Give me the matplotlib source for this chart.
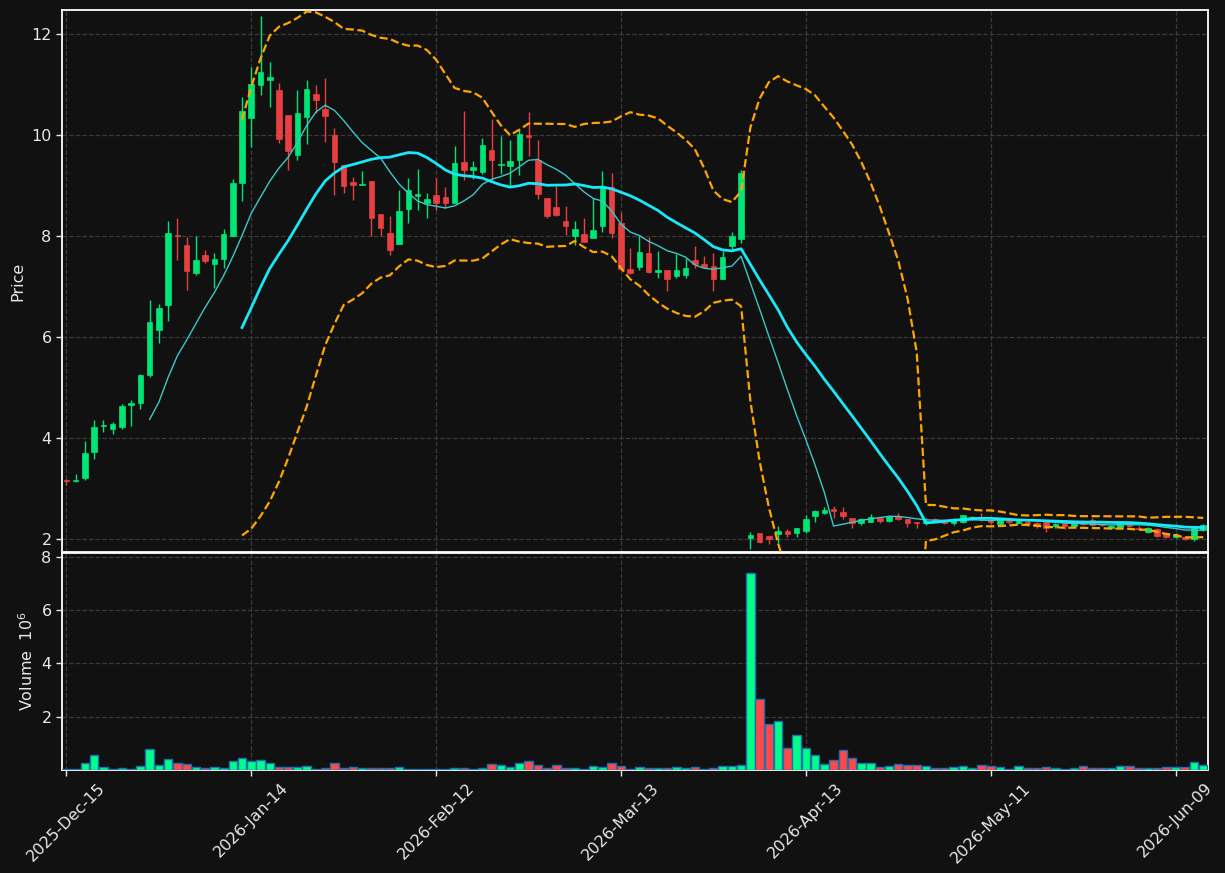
import numpy as np
import pandas as pd
import matplotlib
matplotlib.use("Agg")
import matplotlib.pyplot as plt

# ---------------- data ----------------
opens = [3.17, 3.15, 3.20, 3.72, 4.23, 4.18, 4.22, 4.64, 4.68, 5.25,
         6.13, 6.64, 8.02, 7.81, 7.27, 7.63, 7.45, 7.55, 8.00, 9.04,
         10.33, 10.98, 11.08, 10.90, 10.40, 9.60, 10.35, 10.82, 10.52, 9.99,
         9.40, 9.06, 9.00, 9.08, 8.44, 8.05, 7.83, 8.54, 8.79, 8.66,
         8.81, 8.77, 8.66, 9.47, 9.30, 9.26, 9.71, 9.41, 9.39, 9.51,
         9.99, 9.51, 8.75, 8.58, 8.30, 7.99, 8.04, 7.95, 8.19, 8.97,
         8.25, 7.35, 7.39, 7.66, 7.29, 7.33, 7.21, 7.23, 7.53, 7.45,
         7.41, 7.15, 7.79, 7.93, 2.02, 2.11, 2.05, 2.10, 2.15, 2.11,
         2.16, 2.44, 2.51, 2.59, 2.53, 2.40, 2.31, 2.34, 2.41, 2.36,
         2.44, 2.38, 2.34, 2.31, 2.38, 2.33, 2.31, 2.34, 2.40, 2.41,
         2.37, 2.30, 2.36, 2.31, 2.33, 2.31, 2.33, 2.25, 2.31, 2.26,
         2.32, 2.37, 2.30, 2.21, 2.24, 2.28, 2.22, 2.13, 2.20, 2.12,
         2.04, 2.04, 1.99, 2.17]
highs = [3.18, 3.29, 3.93, 4.36, 4.36, 4.32, 4.67, 4.74, 5.26, 6.73,
         6.65, 8.30, 8.36, 7.98, 8.00, 7.73, 7.66, 8.14, 9.13, 10.75,
         11.34, 12.36, 11.45, 11.03, 10.40, 10.90, 11.09, 10.99, 11.12, 10.14,
         9.40, 9.16, 9.29, 9.08, 8.44, 8.39, 8.90, 9.15, 9.33, 8.85,
         9.14, 8.97, 9.78, 10.48, 9.49, 9.94, 10.32, 9.97, 9.89, 10.11,
         10.46, 9.90, 8.75, 8.99, 8.59, 8.30, 8.35, 8.75, 9.29, 9.24,
         8.48, 7.76, 8.00, 7.97, 7.70, 7.33, 7.64, 7.56, 7.80, 7.60,
         7.66, 7.70, 8.07, 9.31, 2.13, 2.11, 2.05, 2.26, 2.19, 2.22,
         2.46, 2.56, 2.63, 2.65, 2.63, 2.40, 2.41, 2.48, 2.41, 2.46,
         2.50, 2.38, 2.34, 2.41, 2.41, 2.36, 2.40, 2.46, 2.44, 2.51,
         2.39, 2.41, 2.38, 2.38, 2.36, 2.33, 2.35, 2.31, 2.33, 2.33,
         2.37, 2.40, 2.32, 2.28, 2.36, 2.31, 2.25, 2.24, 2.22, 2.14,
         2.11, 2.06, 2.26, 2.30]
lows = [3.07, 3.12, 3.17, 3.58, 4.11, 4.08, 4.18, 4.23, 4.57, 5.21,
        5.88, 6.31, 7.53, 6.92, 7.22, 7.47, 6.97, 7.37, 7.98, 8.69,
        9.76, 10.79, 10.55, 9.84, 9.30, 9.50, 9.82, 10.44, 9.86, 8.81,
        8.84, 8.71, 9.00, 7.99, 7.99, 7.63, 7.83, 8.26, 8.51, 8.36,
        8.52, 8.56, 8.66, 9.11, 9.13, 9.23, 9.08, 9.23, 8.99, 9.20,
        9.59, 8.73, 8.35, 8.40, 8.02, 7.81, 7.87, 7.95, 8.07, 7.95,
        7.34, 7.25, 7.33, 7.27, 7.17, 6.90, 7.16, 7.16, 7.36, 7.39,
        6.90, 7.15, 7.70, 7.85, 1.80, 1.91, 1.89, 1.91, 2.03, 2.03,
        2.11, 2.34, 2.48, 2.40, 2.38, 2.21, 2.27, 2.33, 2.32, 2.34,
        2.37, 2.24, 2.21, 2.28, 2.33, 2.29, 2.28, 2.32, 2.37, 2.36,
        2.30, 2.27, 2.30, 2.29, 2.26, 2.21, 2.13, 2.22, 2.20, 2.24,
        2.27, 2.26, 2.25, 2.19, 2.22, 2.24, 2.17, 2.11, 2.04, 2.02,
        2.01, 1.97, 1.95, 2.15]
closes = [3.15, 3.17, 3.69, 4.22, 4.26, 4.28, 4.62, 4.68, 5.25, 6.30,
          6.58, 8.05, 7.99, 7.30, 7.53, 7.51, 7.55, 8.03, 9.04, 10.48,
          11.00, 11.25, 11.14, 9.91, 9.68, 10.44, 10.92, 10.70, 10.37, 9.46,
          8.98, 9.00, 9.02, 8.35, 8.16, 7.72, 8.50, 8.90, 8.82, 8.74,
          8.66, 8.66, 9.45, 9.31, 9.37, 9.81, 9.50, 9.43, 9.49, 10.01,
          9.95, 8.83, 8.40, 8.42, 8.19, 8.13, 7.87, 8.12, 8.98, 8.05,
          7.34, 7.27, 7.68, 7.29, 7.33, 7.14, 7.33, 7.37, 7.44, 7.39,
          7.14, 7.58, 8.00, 9.24, 2.07, 1.93, 1.99, 2.15, 2.10, 2.21,
          2.38, 2.55, 2.57, 2.55, 2.44, 2.31, 2.38, 2.43, 2.36, 2.45,
          2.38, 2.32, 2.31, 2.36, 2.35, 2.31, 2.38, 2.46, 2.42, 2.38,
          2.33, 2.39, 2.33, 2.36, 2.29, 2.25, 2.22, 2.29, 2.25, 2.31,
          2.29, 2.28, 2.28, 2.26, 2.34, 2.26, 2.19, 2.22, 2.06, 2.04,
          2.09, 1.99, 2.22, 2.28]
volumes_m = [0.02, 0.02, 0.26, 0.56, 0.11, 0.02, 0.07, 0.02, 0.14, 0.79,
             0.18, 0.41, 0.26, 0.23, 0.11, 0.07, 0.11, 0.06, 0.34, 0.45,
             0.34, 0.38, 0.26, 0.11, 0.10, 0.10, 0.15, 0.02, 0.07, 0.26,
             0.06, 0.11, 0.06, 0.06, 0.06, 0.06, 0.11, 0.02, 0.02, 0.02,
             0.02, 0.02, 0.06, 0.06, 0.02, 0.06, 0.23, 0.19, 0.10, 0.26,
             0.34, 0.19, 0.06, 0.19, 0.06, 0.06, 0.02, 0.15, 0.10, 0.26,
             0.15, 0.02, 0.11, 0.06, 0.06, 0.06, 0.11, 0.06, 0.11, 0.02,
             0.06, 0.15, 0.15, 0.19, 7.39, 2.66, 1.73, 1.84, 0.83, 1.31,
             0.83, 0.56, 0.23, 0.38, 0.75, 0.45, 0.26, 0.26, 0.11, 0.15,
             0.23, 0.19, 0.19, 0.15, 0.06, 0.06, 0.11, 0.15, 0.06, 0.19,
             0.15, 0.11, 0.02, 0.15, 0.06, 0.06, 0.11, 0.06, 0.02, 0.06,
             0.15, 0.06, 0.06, 0.06, 0.15, 0.15, 0.06, 0.06, 0.06, 0.11,
             0.11, 0.11, 0.30, 0.19]
start_date = "2025-12-15"
holidays = ["2025-12-25", "2026-01-01", "2026-01-19", "2026-02-16",
            "2026-04-03", "2026-05-25"]

# ---------------- derived ----------------
n = len(closes)
cbd = pd.offsets.CustomBusinessDay(holidays=holidays)
dates = pd.date_range(start=start_date, periods=n, freq=cbd)
o = np.array(opens); h = np.array(highs); l = np.array(lows); c = np.array(closes)
v = np.array(volumes_m)
x = np.arange(n)
cs = pd.Series(c)
ma10 = cs.rolling(10).mean()
ma20 = cs.rolling(20).mean()
sd20 = cs.rolling(20).std(ddof=0)
bb_up = ma20 + 2 * sd20
bb_lo = ma20 - 2 * sd20

BG = "#111111"
UP = "#00e676"
DN = "#e84040"
VUP = "#00ff88"
VDN = "#ff4848"
GRID = "#3a3a3a"
TXT = "#e8e8e8"

plt.rcParams['font.family'] = ['DejaVu Sans']
fig = plt.figure(figsize=(12.25, 8.73), dpi=100, facecolor=BG)
ax = fig.add_axes([0.0506, 0.3677, 0.9354, 0.6208])
axv = fig.add_axes([0.0506, 0.1180, 0.9354, 0.2486], sharex=ax)

for a in (ax, axv):
    a.set_facecolor(BG)
    for s in a.spines.values():
        s.set_color("white")
        s.set_linewidth(1.3)
    a.tick_params(colors=TXT, labelsize=11.5, length=4, width=1)
    a.grid(True, color=GRID, linestyle="--", linewidth=0.9)
    a.set_axisbelow(True)

up = c >= o
col = np.where(up, UP, DN)
# wicks
ax.vlines(x, l, h, colors=col, linewidth=1.0, zorder=2)
# bodies
body_bot = np.minimum(o, c)
body_h = np.maximum(np.abs(c - o), 0.012)
ax.bar(x, body_h, bottom=body_bot, width=0.6, color=col, edgecolor=col,
       linewidth=0.5, zorder=3)

ax.plot(x, ma10, color="#3cc8c8", linewidth=1.0, zorder=4)
ax.plot(x, ma20, color="#18e8f8", linewidth=2.0, zorder=5)
ax.plot(x, bb_up, color="#ffa500", linewidth=1.6, linestyle="--", zorder=4)
ax.plot(x, bb_lo, color="#ffa500", linewidth=1.6, linestyle="--", zorder=4)

ax.set_ylim(1.736, 12.475)
ax.set_yticks([2, 4, 6, 8, 10, 12])
ax.set_ylabel("Price", color=TXT, fontsize=11.5)
plt.setp(ax.get_xticklabels(), visible=False)

vcol = np.where(up, VUP, VDN)
axv.bar(x, v, width=0.92, color=vcol, edgecolor="#1f6fb0", linewidth=1.0, zorder=3)
axv.set_ylim(0, 8.14)
axv.set_yticks([2, 4, 6, 8])
axv.set_ylabel("Volume  $10^{6}$", color=TXT, fontsize=11.5)

ticks = list(range(0, n, 20))
axv.set_xticks(ticks)
axv.set_xticklabels([dates[i].strftime("%Y-%b-%d") for i in ticks],
                    rotation=45, ha="center", color=TXT, fontsize=11.5)
axv.set_xlim(-0.48, 123.5)

fig.savefig("out.png", dpi=100, facecolor=BG)
